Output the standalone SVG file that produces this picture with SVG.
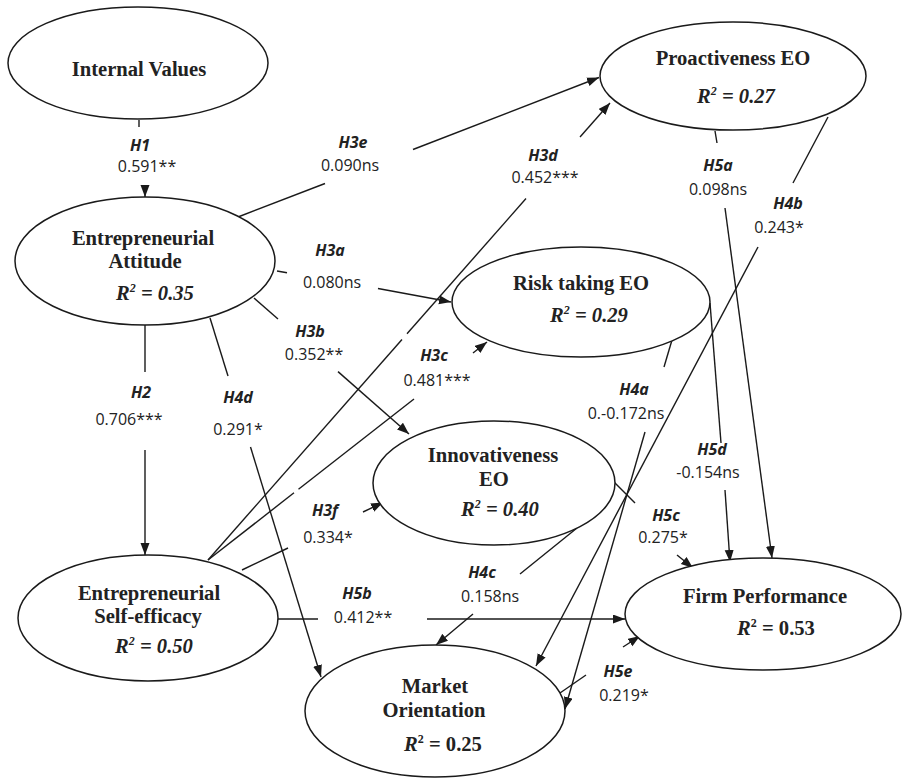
<svg xmlns="http://www.w3.org/2000/svg" width="903" height="778" viewBox="0 0 903 778">
<defs>
<marker id="ah" markerWidth="13" markerHeight="10" refX="12" refY="4.5" orient="auto" markerUnits="userSpaceOnUse"><path d="M0,0 L12,4.5 L0,9 z" fill="#1a1a1a"/></marker>
<style>
.node ellipse{fill:#fff;stroke:#1a1a1a;stroke-width:1.5}
.nt{font-family:"Liberation Serif","Times New Roman",serif;font-weight:bold;font-size:20.6px;fill:#222;text-anchor:middle}
.it{font-style:italic}
.h{font-family:"Open Sans","Liberation Sans",sans-serif;font-weight:bold;font-style:italic;font-size:16px;fill:#222;text-anchor:middle}
.v{font-family:"Open Sans","Liberation Sans",sans-serif;font-size:16px;fill:#222;text-anchor:middle}
#connectors line{stroke:#1a1a1a;stroke-width:1.4;fill:none}
.a{marker-end:url(#ah)}
</style>
</defs>
<rect width="903" height="778" fill="#fff"/>

<g id="connectors">
<!-- H1 -->
<line x1="139" y1="120" x2="139" y2="127"/>
<line class="a" x1="145" y1="185" x2="145" y2="197"/>
<!-- H3e -->
<line x1="238" y1="217" x2="325" y2="183.5"/>
<line class="a" x1="413" y1="149.5" x2="599" y2="77.5"/>
<!-- H3d -->
<line x1="208" y1="560" x2="402" y2="339.5"/>
<line x1="407" y1="333.8" x2="526" y2="198.5"/>
<line class="a" x1="580" y1="137" x2="610" y2="103"/>
<!-- H3c -->
<line x1="208" y1="560" x2="294" y2="492.8"/>
<line x1="298.5" y1="489.3" x2="414" y2="399"/>
<line class="a" x1="473" y1="353" x2="487" y2="342"/>
<!-- H3f -->
<line x1="242" y1="570" x2="288" y2="548"/>
<line class="a" x1="363" y1="512" x2="383" y2="502.5"/>
<!-- H3a -->
<line x1="277" y1="271" x2="287" y2="272.8"/>
<line class="a" x1="378" y1="288.5" x2="451" y2="302"/>
<!-- H3b -->
<line x1="254" y1="298" x2="278" y2="319"/>
<line class="a" x1="338" y1="371.6" x2="409" y2="434"/>
<!-- H4d -->
<line x1="210" y1="318" x2="228" y2="376"/>
<line class="a" x1="250.5" y1="447" x2="321" y2="677"/>
<!-- H2 -->
<line x1="145" y1="325" x2="145" y2="372"/>
<line class="a" x1="145" y1="450" x2="145" y2="555"/>
<!-- H5b -->
<line x1="276" y1="619" x2="318" y2="619"/>
<line class="a" x1="427" y1="619" x2="625" y2="619"/>
<!-- H4c -->
<line x1="577" y1="528" x2="520" y2="574"/>
<line class="a" x1="473" y1="614" x2="436" y2="645"/>
<!-- H4a -->
<line x1="672" y1="340" x2="664" y2="367"/>
<line class="a" x1="645" y1="432" x2="565" y2="709"/>
<!-- H4b -->
<line x1="828" y1="117" x2="793" y2="183"/>
<line class="a" x1="758" y1="247" x2="536" y2="666"/>
<!-- H5a -->
<line x1="715" y1="131" x2="717" y2="143"/>
<line class="a" x1="725" y1="208" x2="772" y2="558"/>
<!-- H5d -->
<line x1="710" y1="303" x2="721" y2="443"/>
<line class="a" x1="725" y1="490" x2="730" y2="562"/>
<!-- H5c -->
<line x1="613" y1="481" x2="635" y2="503"/>
<line class="a" x1="677" y1="555" x2="693" y2="568"/>
<!-- H5e -->
<line x1="560" y1="693" x2="586" y2="675"/>
<line class="a" x1="623" y1="647" x2="640" y2="636"/>
</g>

<g id="labels">
<text class="h" x="140" y="151">H1</text><text class="v" x="147" y="172">0.591**</text>
<text class="h" x="353" y="148">H3e</text><text class="v" x="350" y="171">0.090ns</text>
<text class="h" x="543" y="161">H3d</text><text class="v" x="545" y="183">0.452***</text>
<text class="h" x="718" y="171">H5a</text><text class="v" x="718" y="195">0.098ns</text>
<text class="h" x="788" y="209">H4b</text><text class="v" x="779" y="233">0.243*</text>
<text class="h" x="330" y="256">H3a</text><text class="v" x="332" y="288">0.080ns</text>
<text class="h" x="310" y="337">H3b</text><text class="v" x="314" y="360">0.352**</text>
<text class="h" x="434" y="361">H3c</text><text class="v" x="437" y="386">0.481***</text>
<text class="h" x="141" y="398">H2</text><text class="v" x="129" y="425">0.706***</text>
<text class="h" x="238" y="403">H4d</text><text class="v" x="238" y="435">0.291*</text>
<text class="h" x="634" y="395">H4a</text><text class="v" x="626" y="419">0.-0.172ns</text>
<text class="h" x="712" y="455">H5d</text><text class="v" x="708" y="478">-0.154ns</text>
<text class="h" x="666" y="521">H5c</text><text class="v" x="663" y="543">0.275*</text>
<text class="h" x="325" y="516">H3f</text><text class="v" x="328" y="543">0.334*</text>
<text class="h" x="482" y="578">H4c</text><text class="v" x="490" y="602">0.158ns</text>
<text class="h" x="357" y="599">H5b</text><text class="v" x="363" y="623">0.412**</text>
<text class="h" x="618" y="677">H5e</text><text class="v" x="624" y="701">0.219*</text>
</g>

<g id="internal-values" class="node">
<ellipse cx="138" cy="63" rx="130" ry="56"/>
<text class="nt" x="139" y="76">Internal Values</text>
</g>

<g id="entrepreneurial-attitude" class="node">
<ellipse cx="145" cy="261" rx="130" ry="64"/>
<text class="nt" x="143" y="245">Entrepreneurial</text>
<text class="nt" x="145" y="268">Attitude</text>
<text class="nt it" x="155" y="300">R<tspan font-size="12" dy="-8">2</tspan><tspan dy="8"> = 0.35</tspan></text>
</g>

<g id="proactiveness-eo" class="node">
<ellipse cx="733" cy="76" rx="133" ry="54"/>
<text class="nt" x="733" y="65">Proactiveness EO</text>
<text class="nt it" x="736" y="103">R<tspan font-size="12" dy="-8">2</tspan><tspan dy="8"> = 0.27</tspan></text>
</g>

<g id="risk-taking-eo" class="node">
<ellipse cx="581" cy="302" rx="129" ry="55"/>
<text class="nt" x="581" y="290">Risk taking EO</text>
<text class="nt it" x="589" y="322">R<tspan font-size="12" dy="-8">2</tspan><tspan dy="8"> = 0.29</tspan></text>
</g>

<g id="innovativeness-eo" class="node">
<ellipse cx="494" cy="483" rx="121" ry="62"/>
<text class="nt" x="493" y="462">Innovativeness</text>
<text class="nt" x="494" y="486">EO</text>
<text class="nt it" x="500" y="516">R<tspan font-size="12" dy="-8">2</tspan><tspan dy="8"> = 0.40</tspan></text>
</g>

<g id="entrepreneurial-self-efficacy" class="node">
<ellipse cx="148" cy="618" rx="130" ry="63"/>
<text class="nt" x="149" y="600">Entrepreneurial</text>
<text class="nt" x="148" y="623">Self-efficacy</text>
<text class="nt it" x="154" y="653">R<tspan font-size="12" dy="-8">2</tspan><tspan dy="8"> = 0.50</tspan></text>
</g>

<g id="market-orientation" class="node">
<ellipse cx="435" cy="711" rx="130" ry="66"/>
<text class="nt" x="435" y="693">Market</text>
<text class="nt" x="434" y="717">Orientation</text>
<text class="nt" x="443" y="751"><tspan class="it">R</tspan><tspan font-size="12" dy="-8">2</tspan><tspan dy="8"> = 0.25</tspan></text>
</g>

<g id="firm-performance" class="node">
<ellipse cx="763" cy="614" rx="138" ry="56"/>
<text class="nt" x="765" y="603">Firm Performance</text>
<text class="nt" x="776" y="635"><tspan class="it">R</tspan><tspan font-size="12" dy="-8">2</tspan><tspan dy="8"> = 0.53</tspan></text>
</g>
</svg>
